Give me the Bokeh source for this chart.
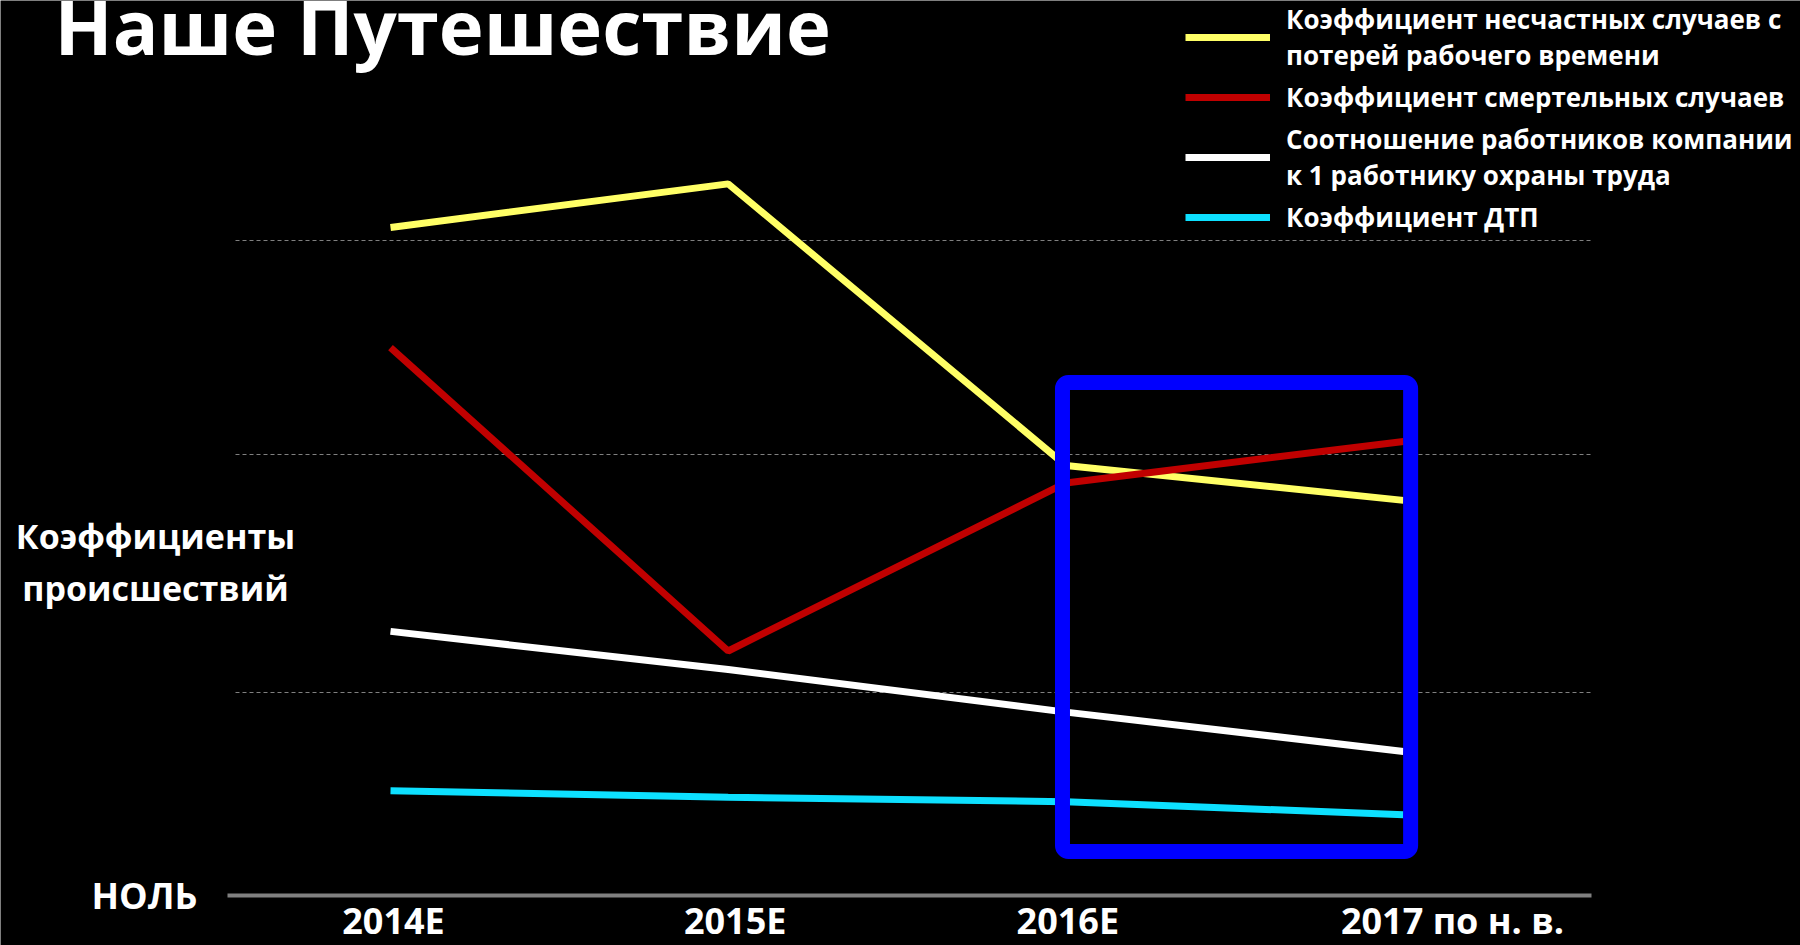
from bokeh.plotting import figure
from bokeh.models import (Range1d, FixedTicker, Legend, LegendItem, Label, BoxAnnotation, Grid)
from bokeh.core.properties import value
from bokeh.embed import file_html
from bokeh.resources import INLINE

# ---------------- data ----------------
categories = ["2014E", "2015E", "2016E", "2017 по н. в."]
lost_time_rate = [3.06, 3.26, 1.97, 1.81]      # Коэффициент несчастных случаев с потерей рабочего времени
fatality_rate = [2.51, 1.12, 1.89, 2.08]       # Коэффициент смертельных случаев
staff_ratio = [1.21, 1.035, 0.84, 0.66]        # Соотношение работников компании к 1 работнику охраны труда
traffic_rate = [0.48, 0.45, 0.43, 0.37]        # Коэффициент ДТП
grid_levels = [0.93, 2.02, 3.0]
zero_text = "НОЛЬ"
highlight_cats = ["2016E", "2017 по н. в."]

series_names = [
    "Коэффициент несчастных случаев с\nпотерей рабочего времени",
    "Коэффициент смертельных случаев",
    "Соотношение работников компании\nк 1 работнику охраны труда",
    "Коэффициент ДТП",
]
series_colors = ["#FFFF66", "#C00000", "#FFFFFF", "#0DE0FF"]
title_text = "Наше Путешествие"
ylabel_text = "Коэффициенты\nпроисшествий"

FONT = "Open Sans"
x = list(range(len(categories)))

# ---------------- layout constants ----------------
AXIS_X = (-0.4827, 3.5567)       # extent of the zero line (data units)
GRID_X = (-0.459, 3.560)         # extent of the dashed grid lines
LABEL_NUDGE_PX = [3, 7, 2, 49]   # horizontal nudge of category labels (pixels)

p = figure(width=1800, height=945, output_backend="svg", toolbar_location=None,
           x_range=Range1d(-1.155, 4.1756), y_range=Range1d(-0.22904, 4.0999),
           x_axis_location=None, y_axis_location=None,
           min_border=0, min_border_left=0, min_border_right=0, min_border_top=0, min_border_bottom=0,
           background_fill_color="black", border_fill_color="black", outline_line_color=None)
for g in p.grid:
    g.visible = False

# dashed grid lines
grid = Grid(dimension=1, ticker=FixedTicker(ticks=grid_levels), cross_bounds=GRID_X,
            grid_line_color="#808080", grid_line_dash="4 3", grid_line_width=1)
p.add_layout(grid)
# zero (category) axis line
zero_line = Grid(dimension=1, ticker=FixedTicker(ticks=[0]), cross_bounds=AXIS_X,
                 grid_line_color="#808080", grid_line_width=4)
p.add_layout(zero_line)

# category labels
p.text(x=x, y=[-0.1145] * len(x), text=categories, x_offset=LABEL_NUDGE_PX,
       text_font=value(FONT), text_font_style="bold",
       text_font_size="36px", text_color="white", text_align="center", text_baseline="middle")
# zero label
p.text(x=[-0.5716], y=[0], text=[zero_text], text_font=value(FONT), text_font_style="bold",
       text_font_size="36px", text_color="white", text_align="right", text_baseline="middle")

# series
renderers = []
for vals, col in zip([lost_time_rate, fatality_rate, staff_ratio, traffic_rate], series_colors):
    r = p.line(x, vals, line_color=col, line_width=7)
    renderers.append(r)

# highlight box
i0 = categories.index(highlight_cats[0])
i1 = categories.index(highlight_cats[1])
box = BoxAnnotation(left=i0 - 0.01, right=i1 + 0.021, bottom=0.2016, top=2.35,
                    fill_alpha=0, line_color="#0000FF", line_alpha=1, line_width=15, border_radius=6)
p.add_layout(box)

# legend
legend = Legend(items=[LegendItem(label=n, renderers=[r]) for n, r in zip(series_names, renderers)],
                location=(1185, 710), orientation="vertical",
                label_text_font=FONT, label_text_font_style="bold", label_text_font_size="26px",
                label_text_color="white",
                glyph_width=85, glyph_height=30, label_standoff=16, spacing=6,
                padding=0, margin=0, background_fill_alpha=0, border_line_alpha=0)
p.add_layout(legend)

# title and y label
p.add_layout(Label(x=-0.995, y=3.987, text=title_text, text_font=FONT, text_font_style="bold",
                   text_font_size="76px", text_color="white", text_baseline="middle",
                   text_align="left"))
p.add_layout(Label(x=-0.696, y=1.528, text=ylabel_text, text_font=FONT, text_font_style="bold",
                   text_font_size="34px", text_color="white", text_baseline="middle",
                   text_align="center", text_line_height=1.12))

open("out.html", "w").write(file_html(p, INLINE))
